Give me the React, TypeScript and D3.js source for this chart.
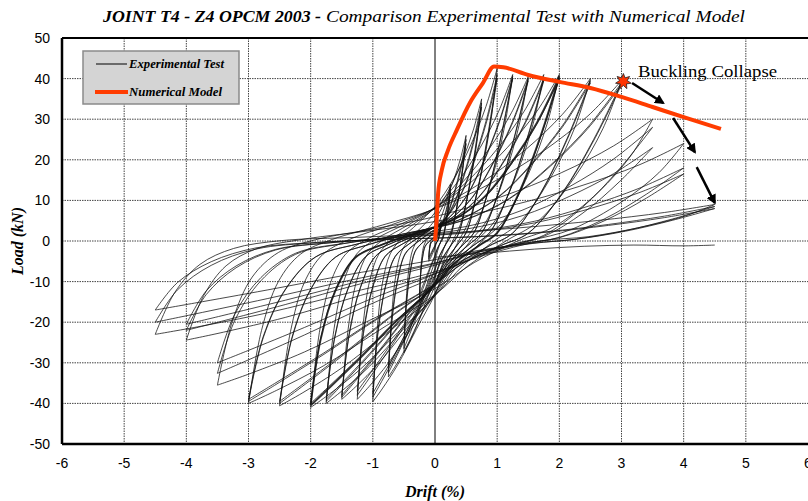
import React from "react";
import * as d3 from "d3";

// Cycle amplitudes (drift %) and peak loads (kN) of the three repetitions
const cycleDrifts = [0.1, 0.25, 0.5, 0.75, 1.0, 1.25, 1.5, 1.75, 2.0, 2.5, 3.0, 3.5, 4.0, 4.5];
const posPeakLoads = [
  [5, 4.5, 4], [14, 13, 12], [26, 25, 24], [35, 34, 33], [42.5, 41, 40],
  [41, 40.5, 40], [40.5, 40, 39.5], [41, 40, 39.5], [41, 40.5, 40], [40, 39.5, 39],
  [39.5, 39, 38.5], [30, 28, 23], [24, 18, 16.5], [9, 8.5, 8],
];
const negPeakLoads = [
  [-5, -4.5, -4], [-15, -14, -13], [-27.5, -26.5, -25], [-33.5, -32.5, -31], [-39.6, -38.5, -37.5],
  [-39, -38, -37], [-39, -38.5, -38], [-40, -39.5, -39], [-41, -40.5, -40], [-40.6, -40, -39.5],
  [-40, -39.5, -39], [-35.5, -32.6, -30], [-24.4, -22, -20.5], [-23, -20, -17],
];

// Branch shapes read off typical loops: (fraction of amplitude, fraction of peak load)
const upFirst = [[-1, -1], [-0.93, -0.55], [-0.84, -0.25], [-0.72, -0.08], [-0.55, 0.01], [-0.28, 0.1], [0, 0.2], [0.3, 0.36], [0.58, 0.56], [0.82, 0.78], [1, 1]];
const upRepeat = [[-1, -1], [-0.92, -0.6], [-0.8, -0.3], [-0.64, -0.1], [-0.42, -0.02], [-0.15, 0.05], [0.15, 0.13], [0.4, 0.27], [0.62, 0.48], [0.82, 0.72], [1, 1]];
const downFirst = [[1, 1], [0.9, 0.7], [0.75, 0.4], [0.55, 0.12], [0.38, 0], [0.18, -0.15], [0, -0.33], [-0.3, -0.55], [-0.6, -0.77], [-0.85, -0.92], [-1, -1]];
const downRepeat = [[1, 1], [0.85, 0.64], [0.68, 0.3], [0.5, 0.05], [0.35, -0.03], [0.15, -0.14], [0, -0.27], [-0.3, -0.48], [-0.6, -0.71], [-0.86, -0.9], [-1, -1]];

// Last pull after collapse
const finalDrift = [0, 0.8, 1.6, 2.4, 3.2, 4.0, 4.5];
const finalLoad = [-4, -3, -2, -1.3, -1, -1.2, -1];

// Numerical model
const modelDrift = [0, 0.03, 0.05, 0.11, 0.21, 0.35, 0.56, 0.77, 0.95, 1.1, 1.5, 2.0, 2.5, 3.0, 3.5, 4.0, 4.6];
const modelLoad = [0, 6, 11.7, 17.5, 22.4, 27.3, 34, 38.9, 43, 42.8, 40.9, 39.2, 37.7, 35.5, 33, 30.5, 27.6];

const xTicks = [-6, -5, -4, -3, -2, -1, 0, 1, 2, 3, 4, 5, 6];
const yTicks = [-50, -40, -30, -20, -10, 0, 10, 20, 30, 40, 50];

// Buckling point and the arrows after it (drift, load)
const buckling = [3.03, 39.3];
const arrows = [
  [3.17, 38.9, 3.67, 34.0],
  [3.83, 30.3, 4.18, 21.9],
  [4.21, 18.2, 4.5, 9.4],
];

const serif = "'Liberation Serif', 'Times New Roman', serif";
const narrow = "'Liberation Sans Narrow', 'Arial Narrow', 'Liberation Sans', sans-serif";

export default function App() {
  const width = 808;
  const height = 501;
  const x = d3.scaleLinear().domain([-6, 6]).range([62, 808]);
  const y = d3.scaleLinear().domain([-50, 50]).range([444, 38]);

  const branch = d3
    .line<number[]>()
    .x((d) => x(d[0]))
    .y((d) => y(d[1]))
    .curve(d3.curveCatmullRom.alpha(0.5));

  // build each cycle from its amplitude and peaks
  const cycles: { d: string; w: number }[] = [];
  cycleDrifts.forEach((D, i) => {
    posPeakLoads[i].forEach((Fp, r) => {
      const Fn = -negPeakLoads[i][r];
      const toData = ([u, v]: number[]) => [u * D, v < 0 ? v * Fn : v * Fp];
      const up = (r === 0 ? upFirst : upRepeat).map(toData);
      const down = (r === 0 ? downFirst : downRepeat).map(toData);
      const d = (branch(up) || "") + (branch(down) || "");
      cycles.push({ d, w: D === 2.0 && r === 1 ? 1.9 : 0.9 });
    });
  });

  const finalPath = branch(finalDrift.map((v, i) => [v, finalLoad[i]]));

  const model = d3
    .line<number>()
    .x((d) => x(d))
    .y((_, i) => y(modelLoad[i]))
    .curve(d3.curveMonotoneX)(modelDrift);

  const bx = x(buckling[0]);
  const by = y(buckling[1]);
  const star = d3
    .lineRadial<number>()
    .angle((_, i) => (i * Math.PI) / 7)
    .radius((_, i) => (i % 2 === 0 ? 8 : 4))
    .curve(d3.curveLinearClosed)(d3.range(14));

  return (
    <svg width={width} height={height} style={{ position: "absolute", left: 0, top: 0 }}>
      <defs>
        <marker id="ah" viewBox="0 0 10 10" refX="8" refY="5" markerWidth="4" markerHeight="4" orient="auto">
          <path d="M0,0 L10,5 L0,10 z" fill="#000" />
        </marker>
      </defs>
      <rect width={width} height={height} fill="#fff" />

      {/* title */}
      <text x={103} y={22} fontFamily={serif} fontSize={16} fontStyle="italic" fontWeight="bold"
        textLength={218} lengthAdjust="spacingAndGlyphs">JOINT T4 - Z4 OPCM 2003 -</text>
      <text x={326} y={22} fontFamily={serif} fontSize={16} fontStyle="italic"
        textLength={419} lengthAdjust="spacingAndGlyphs">Comparison Experimental Test with Numerical Model</text>

      {/* grid */}
      {xTicks.slice(1, -1).map((t) => (
        <line key={"gx" + t} x1={x(t)} x2={x(t)} y1={y(50)} y2={y(-50)}
          stroke={t === 0 ? "#000" : "#444"} strokeWidth={1} strokeDasharray={t === 0 ? undefined : "1.5,1"} />
      ))}
      {yTicks.slice(1, -1).map((t) => (
        <line key={"gy" + t} x1={x(-6)} x2={x(6)} y1={y(t)} y2={y(t)}
          stroke="#444" strokeWidth={1} strokeDasharray="1.5,1" />
      ))}

      {/* experimental cycles */}
      <g fill="none" stroke="#111" strokeOpacity={0.85} strokeLinejoin="round">
        {cycles.map((c, i) => (
          <path key={i} d={c.d} strokeWidth={c.w} />
        ))}
        <path d={finalPath || ""} strokeWidth={0.9} />
      </g>

      {/* numerical model */}
      <path d={model || ""} fill="none" stroke="#ff3c00" strokeWidth={4} strokeLinejoin="round" />

      {/* plot frame */}
      <line x1={x(-6)} x2={x(6)} y1={y(50)} y2={y(50)} stroke="#000" strokeWidth={2} />
      <line x1={x(-6)} x2={x(6)} y1={y(-50)} y2={y(-50)} stroke="#000" strokeWidth={2.5} />
      <line x1={x(-6)} x2={x(-6)} y1={y(50)} y2={y(-50)} stroke="#000" strokeWidth={2.5} />

      {/* buckling marker, arrows */}
      <path d={star || ""} transform={`translate(${bx},${by})`} fill="#ff3300" stroke="#222" strokeWidth={0.8} />
      <text x={638} y={77} fontFamily={serif} fontSize={17} textLength={139} lengthAdjust="spacingAndGlyphs">Buckling Collapse</text>
      {arrows.map((a, i) => (
        <line key={"ar" + i} x1={x(a[0])} y1={y(a[1])} x2={x(a[2])} y2={y(a[3])}
          stroke="#000" strokeWidth={2.5} markerEnd="url(#ah)" />
      ))}

      {/* legend */}
      <rect x={83} y={51} width={156} height={53} fill="#d4d4d4" stroke="#8a8a8a" strokeWidth={1.5} />
      <line x1={96} x2={127} y1={64} y2={64} stroke="#000" strokeWidth={1} />
      <text x={129} y={68} fontFamily={serif} fontSize={12} fontStyle="italic" fontWeight="bold"
        textLength={95} lengthAdjust="spacingAndGlyphs">Experimental Test</text>
      <line x1={95} x2={128} y1={92} y2={92} stroke="#ff3c00" strokeWidth={4} />
      <text x={129} y={96} fontFamily={serif} fontSize={12} fontStyle="italic" fontWeight="bold"
        textLength={93} lengthAdjust="spacingAndGlyphs">Numerical Model</text>

      {/* axes labels */}
      {yTicks.map((t) => (
        <text key={"yl" + t} x={50} y={y(t) + 5} textAnchor="end" fontFamily={narrow} fontSize={14}>{t}</text>
      ))}
      {xTicks.map((t) => (
        <text key={"xl" + t} x={x(t)} y={468} textAnchor="middle" fontFamily={narrow} fontSize={14}>{t}</text>
      ))}
      <text x={435} y={497} textAnchor="middle" fontFamily={serif} fontSize={16} fontStyle="italic" fontWeight="bold">Drift (%)</text>
      <text transform={`translate(23,${y(0)}) rotate(-90)`} textAnchor="middle" fontFamily={serif} fontSize={16}
        fontStyle="italic" fontWeight="bold">Load (kN)</text>
    </svg>
  );
}
